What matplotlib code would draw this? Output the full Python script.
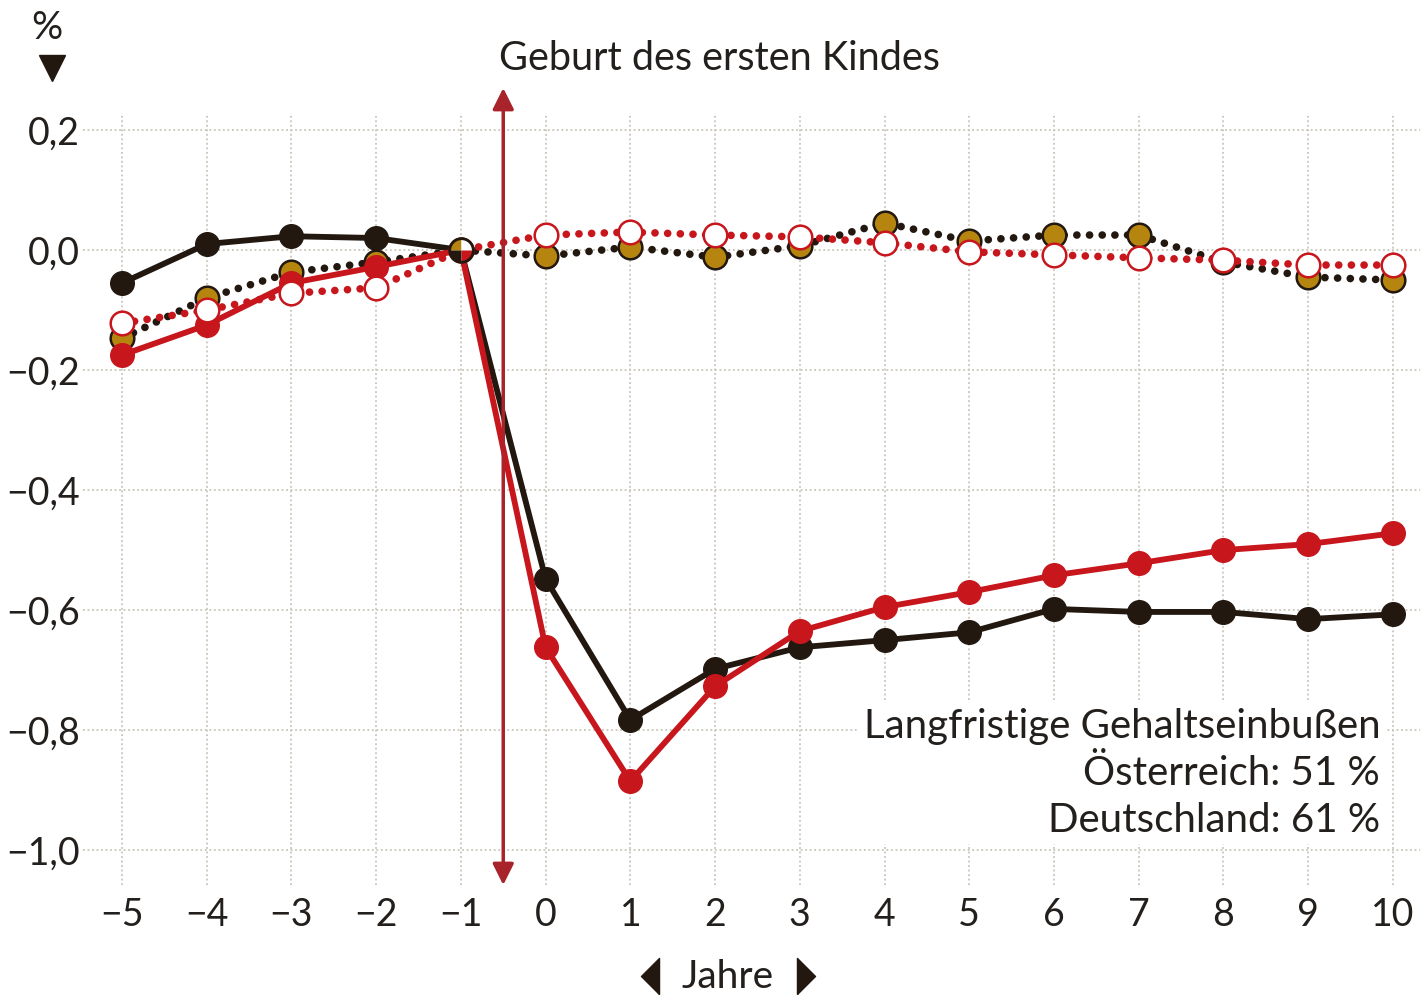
import numpy as np
import matplotlib.pyplot as plt
from matplotlib.path import Path

plt.rcParams['font.family'] = ['Lato', 'DejaVu Sans']

# data
years = [-5, -4, -3, -2, -1, 0, 1, 2, 3, 4, 5, 6, 7, 8, 9, 10]
black_solid = [-0.055, 0.01, 0.023, 0.02, 0.0, -0.548, -0.783, -0.698, -0.662,
               -0.65, -0.637, -0.598, -0.603, -0.603, -0.615, -0.607]
red_solid = [-0.175, -0.125, -0.055, -0.028, 0.0, -0.662, -0.885, -0.727, -0.635,
             -0.595, -0.57, -0.542, -0.522, -0.5, -0.49, -0.472]
gold_dotted = [-0.147, -0.08, -0.037, -0.02, 0.0, -0.01, 0.005, -0.012, 0.007,
               0.045, 0.015, 0.025, 0.025, -0.02, -0.045, -0.05]
white_dotted = [-0.122, -0.1, -0.072, -0.063, 0.0, 0.025, 0.03, 0.025, 0.022,
                0.012, -0.003, -0.008, -0.013, -0.017, -0.025, -0.025]
yticks = [0.2, 0.0, -0.2, -0.4, -0.6, -0.8, -1.0]
ylabels = ['0,2', '0,0', '\u22120,2', '\u22120,4', '\u22120,6', '\u22120,8', '\u22121,0']
xlabels = ['\u22125', '\u22124', '\u22123', '\u22122', '\u22121', '0', '1', '2', '3',
           '4', '5', '6', '7', '8', '9', '10']

BLACK = '#22180f'
RED = '#c8161d'
GOLD = '#b5850f'
ARROW = '#a8232a'
GRID = '#c9c5b8'
TXT = '#231f1c'

W, H = 1423, 998
fig = plt.figure(figsize=(W / 100, H / 100), dpi=100)
left, right, top, bottom = 83, 1420, 88, 885
ax = fig.add_axes([left / W, 1 - bottom / H, (right - left) / W, (bottom - top) / H])
ax.set_xlim(-5.46, 10.32)
ax.set_ylim(-1.058, 0.27)
for s in ax.spines.values():
    s.set_visible(False)
ax.tick_params(length=0, labelsize=27, colors=TXT)
ax.set_yticks(yticks)
ax.set_yticklabels(ylabels)
ax.set_xticks(years)
ax.set_xticklabels(xlabels)
ax.tick_params(axis='y', pad=2)
ax.tick_params(axis='x', pad=9)

# grid
ax.hlines(yticks, -5.46, 10.32, colors=GRID, linestyles=(0, (1, 1.5)), lw=1.3, zorder=0)
ax.vlines(years, -1.058, 0.228, colors=GRID, linestyles=(0, (1, 1.5)), lw=1.3, zorder=0)

dot = (0, (0.01, 1.65))
ax.plot(years, gold_dotted, color=BLACK, lw=5.5, linestyle=dot, dash_capstyle='round',
        marker='o', ms=17, mfc=GOLD, mec=BLACK, mew=1.8, zorder=3)
ax.plot(years, black_solid, color=BLACK, lw=4.2, marker='o', ms=17, mfc=BLACK,
        mec=BLACK, zorder=4)
ax.plot(years, red_solid, color=RED, lw=4.2, marker='o', ms=17, mfc=RED, mec=RED, zorder=5)
ax.plot(years, white_dotted, color=RED, lw=5.5, linestyle=dot, dash_capstyle='round',
        marker='o', ms=17, mfc='white', mec=RED, mew=1.8, zorder=6)

# shared point at year -1: one quarter of the circle per series
i0 = years.index(-1)
quarters = [(gold_dotted, GOLD, 90, 180), (white_dotted, 'white', 0, 90),
            (black_solid, BLACK, 180, 270), (red_solid, RED, 270, 360)]
for series, col, t1, t2 in quarters:
    ax.plot([years[i0]], [series[i0]], marker=Path.wedge(t1, t2), ms=17, mfc=col,
            mew=0, lw=0, zorder=6.5)
ax.plot([years[i0]], [black_solid[i0]], marker='o', ms=17, mfc='none', mec=BLACK,
        mew=2, lw=0, zorder=6.6)

# birth arrow
ax.annotate('', xy=(-0.5, 0.27), xytext=(-0.5, -1.058),
            arrowprops=dict(arrowstyle='<|-|>', color=ARROW, lw=2.5,
                            mutation_scale=32, shrinkA=0, shrinkB=0), zorder=7)
fig.text(719 / W, 1 - 58 / H, 'Geburt des ersten Kindes', ha='center', va='center',
         fontsize=28.5, color=TXT)

# annotation
ax.text(9.85, -0.763, 'Langfristige Gehaltseinbußen\nÖsterreich: 51 %\nDeutschland: 61 %',
        ha='right', va='top', fontsize=29, color=TXT, linespacing=1.33,
        multialignment='right',
        bbox=dict(facecolor='white', edgecolor='none', pad=4), zorder=8)

# y unit
fig.text(47 / W, 1 - 28 / H, '%', ha='center', va='center', fontsize=28, color=TXT)
fig.lines.append(plt.Line2D([52 / W], [1 - 68 / H], transform=fig.transFigure, marker='v',
                            ms=19, color=BLACK, lw=0))

# x label
tri_l = [(0.5, -1), (0.5, 1), (-0.5, 0), (0.5, -1)]
tri_r = [(-0.5, -1), (-0.5, 1), (0.5, 0), (-0.5, -1)]
fig.text(728 / W, 1 - 977 / H, 'Jahre', ha='center', va='center', fontsize=28, color=TXT)
fig.lines.append(plt.Line2D([650 / W], [1 - 976 / H], transform=fig.transFigure,
                            marker=tri_l, ms=26, color=BLACK, lw=0))
fig.lines.append(plt.Line2D([806 / W], [1 - 976 / H], transform=fig.transFigure,
                            marker=tri_r, ms=26, color=BLACK, lw=0))

fig.savefig('out.png', dpi=100, facecolor='white')
